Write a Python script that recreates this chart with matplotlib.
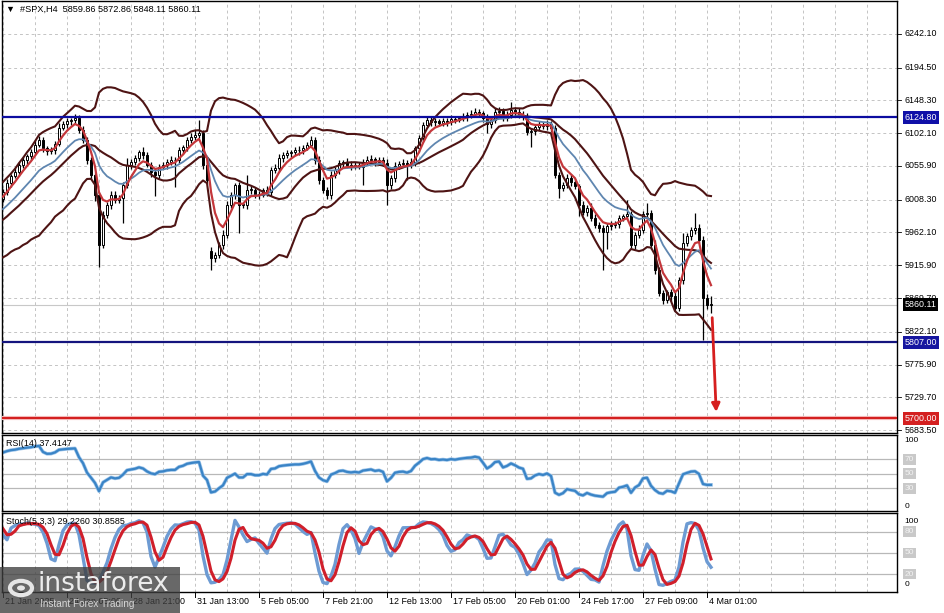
import numpy as np
import pandas as pd
import matplotlib
matplotlib.use('Agg')
import matplotlib.pyplot as plt
import matplotlib.transforms as mtrans
from matplotlib.patches import Rectangle, Circle

plt.rcParams['font.family'] = ['Liberation Sans', 'DejaVu Sans']

# H4 closes before the first visible bar, estimated, only so the indicators are warmed up
lead_close = [5930, 5941, 5936, 5948, 5955, 5950, 5962, 5958, 5970, 5978,
              5973, 5984, 5991, 5986, 5998, 6006, 6001, 6012, 6026, 6010]

# visible H4 bars, 21 Jan .. 4 Mar
close = [6019, 6032, 6042, 6047, 6057, 6064, 6070, 6076, 6086, 6093,
         6081, 6077, 6078, 6087, 6110, 6115, 6119, 6121, 6124, 6107,
         6093, 6064, 6043, 6015, 5945, 5987, 6001, 6015, 6008, 6011,
         6029, 6057, 6062, 6067, 6076, 6071, 6057, 6047, 6043, 6055,
         6057, 6062, 6064, 6064, 6078, 6083, 6093, 6097, 6100, 6102,
         6057, 6036, 5926, 5930, 5945, 5959, 6001, 6015, 6029, 6001,
         6001, 6022, 6022, 6015, 6015, 6022, 6019, 6050, 6053, 6067,
         6071, 6074, 6076, 6078, 6078, 6081, 6086, 6093, 6064, 6036,
         6022, 6015, 6043, 6050, 6060, 6062, 6057, 6055, 6057, 6055,
         6062, 6064, 6066, 6062, 6064, 6060, 6029, 6039, 6056, 6059,
         6060, 6057, 6062, 6081, 6095, 6114, 6121, 6118, 6119, 6117,
         6119, 6118, 6122, 6121, 6124, 6126, 6128, 6129, 6132, 6131,
         6124, 6115, 6121, 6132, 6134, 6124, 6128, 6135, 6132, 6128,
         6126, 6104, 6105, 6111, 6114, 6112, 6115, 6110, 6043, 6025,
         6029, 6039, 6033, 6028, 6001, 5991, 5997, 5983, 5973, 5968,
         5963, 5971, 5973, 5974, 5983, 5985, 5988, 5945, 5959, 5966,
         5988, 5990, 5945, 5909, 5877, 5867, 5878, 5873, 5856, 5895,
         5947, 5957, 5966, 5968, 5952, 5870, 5859.86, 5860.11]

wick_up = [4, 5, 3, 6, 4, 5, 3, 4, 6, 5,
           4, 3, 5, 4, 6, 5, 4, 3, 5, 4,
           6, 4, 5, 3, 4, 5, 4, 6, 5, 4,
           5, 10, 4, 5, 3, 6, 4, 5, 4, 3,
           5, 4, 6, 4, 5, 3, 4, 5, 6, 19,
           5, 4, 6, 5, 4, 6, 5, 4, 3, 5,
           4, 21, 5, 4, 6, 3, 5, 4, 5, 6,
           4, 5, 3, 4, 6, 5, 4, 5, 4, 6,
           5, 4, 6, 5, 4, 3, 5, 6, 4, 5,
           4, 6, 5, 3, 4, 5, 6, 4, 5, 4,
           6, 4, 5, 3, 5, 4, 6, 5, 4, 3,
           5, 4, 6, 4, 3, 5, 4, 6, 5, 4,
           3, 5, 4, 6, 5, 4, 5, 11, 4, 5,
           6, 4, 5, 3, 5, 4, 6, 5, 4, 5,
           4, 6, 5, 4, 3, 5, 4, 6, 5, 4,
           5, 4, 6, 5, 4, 3, 20, 5, 4, 6,
           5, 14, 4, 6, 5, 4, 3, 5, 6, 4,
           15, 5, 4, 22, 6, 5, 6, 12.75]

wick_dn = [5, 4, 6, 3, 5, 4, 6, 5, 3, 4,
           6, 5, 4, 5, 3, 4, 6, 5, 4, 5,
           4, 6, 5, 8, 32, 5, 4, 6, 5, 4,
           35, 4, 6, 5, 4, 5, 3, 6, 30, 5,
           4, 6, 5, 38, 4, 5, 6, 4, 5, 4,
           6, 5, 17, 5, 4, 6, 5, 4, 5, 39,
           4, 6, 5, 4, 5, 3, 6, 5, 4, 5,
           6, 4, 5, 4, 6, 5, 3, 4, 5, 6,
           4, 5, 6, 4, 5, 6, 4, 5, 3, 4,
           26, 5, 4, 6, 5, 4, 28, 5, 6, 4,
           5, 21, 4, 6, 5, 4, 3, 5, 6, 4,
           5, 6, 4, 5, 3, 4, 6, 5, 4, 5,
           6, 13, 5, 4, 6, 5, 4, 5, 6, 4,
           5, 4, 22, 6, 5, 4, 5, 6, 4, 14,
           5, 4, 6, 5, 15, 4, 6, 5, 4, 5,
           54, 24, 5, 4, 6, 5, 4, 5, 6, 4,
           5, 4, 6, 5, 4, 6, 5, 7, 4, 5,
           6, 4, 5, 6, 5, 60, 6, 11.75]

gap_open = {52: 5936}

price_ticks = [6242.10, 6194.50, 6148.30, 6102.10, 6055.90, 6008.30, 5962.10,
               5915.90, 5869.70, 5822.10, 5775.90, 5729.70, 5683.50]
resistance = 6124.80
support = 5807.00
target = 5700.00
last_price = 5860.11

date_labels = ['21 Jan 2025', '24 Jan 05:00', '28 Jan 21:00', '31 Jan 13:00',
               '5 Feb 05:00', '7 Feb 21:00', '12 Feb 13:00', '17 Feb 05:00',
               '20 Feb 01:00', '24 Feb 17:00', '27 Feb 09:00', '4 Mar 01:00']
label_step = 16
grid_step = 8

rsi_levels = [70, 50, 30]
stoch_levels = [80, 50, 20]

title = '\u25bc  #SPX,H4  5859.86 5872.86 5848.11 5860.11'
rsi_text = 'RSI(14) 37.4147'
stoch_text = 'Stoch(5,3,3) 29.2260 30.8585'

# ---- candles + indicators
n_lead = len(lead_close)
c_all = np.array(lead_close + close, dtype=float)
o_all = np.r_[c_all[0], c_all[:-1]]
for k, v in gap_open.items():
    o_all[n_lead + k] = v
up_all = np.r_[np.zeros(n_lead), wick_up]
dn_all = np.r_[np.zeros(n_lead), wick_dn]
h_all = np.maximum(o_all, c_all) + up_all
l_all = np.minimum(o_all, c_all) - dn_all

s = pd.Series(c_all)
bb_mid = s.rolling(20).mean()
bb_sd = s.rolling(20).std(ddof=0)
bb_up = bb_mid + 2 * bb_sd
bb_lo = bb_mid - 2 * bb_sd
ma_fast = s.ewm(span=5, adjust=False).mean()
ma_slow = s.ewm(span=14, adjust=False).mean()

delta = s.diff()
gain = delta.clip(lower=0).ewm(alpha=1 / 14, adjust=False).mean()
loss = (-delta.clip(upper=0)).ewm(alpha=1 / 14, adjust=False).mean()
rsi = 100 - 100 / (1 + gain / loss)

hh = pd.Series(h_all).rolling(5, min_periods=1).max()
ll = pd.Series(l_all).rolling(5, min_periods=1).min()
st_k = (s - ll).rolling(3, min_periods=1).sum() / (hh - ll).rolling(3, min_periods=1).sum() * 100
st_d = st_k.rolling(3, min_periods=1).mean()

vis = slice(n_lead, None)
idx = np.arange(len(close))
o, h, l, c = o_all[vis], h_all[vis], l_all[vis], c_all[vis]

W, H = 945, 613


def frac(left, top, right, bottom):
    return [left / W, 1 - bottom / H, (right - left) / W, (bottom - top) / H]


fig = plt.figure(figsize=(W / 100, H / 100), dpi=100)
fig.patch.set_facecolor('white')
ax = fig.add_axes(frac(2, 1, 897, 433))
ax_rsi = fig.add_axes(frac(2, 435, 897, 511))
ax_st = fig.add_axes(frac(2, 513, 897, 592))

xmin, xmax = -0.25, 223.5
grid_kw = dict(color='#c4c4c4', lw=0.7, ls=(0, (3, 3)), zorder=0)
for a in (ax, ax_rsi, ax_st):
    a.set_xlim(xmin, xmax)
    a.set_xticks([])
    a.set_yticks([])
    for sp in a.spines.values():
        sp.set_linewidth(1.0)
        sp.set_color('black')
    for g in range(0, 224, grid_step):
        a.axvline(g, **grid_kw)

# ---- main price panel
ax.set_ylim(5679.3, 6288.6)
for p in price_ticks:
    ax.axhline(p, **grid_kw)
ax.axhline(last_price, color='#c8c8c8', lw=0.8, zorder=0.5)

ax.vlines(idx, l, h, color='black', lw=0.9, zorder=2)
bull = c >= o
body = np.maximum(np.abs(c - o), 0.8)
ax.bar(idx[bull], body[bull], bottom=np.minimum(o, c)[bull], width=0.66,
       color='white', edgecolor='black', lw=0.7, zorder=2.2)
ax.bar(idx[~bull], body[~bull], bottom=np.minimum(o, c)[~bull], width=0.66,
       color='black', edgecolor='black', lw=0.7, zorder=2.2)

band_kw = dict(color='#4e1414', lw=1.5, zorder=3)
ax.plot(idx, bb_up[vis], **band_kw)
ax.plot(idx, bb_mid[vis], **band_kw)
ax.plot(idx, bb_lo[vis], **band_kw)
ax.plot(idx, ma_slow[vis], color='#5f86b0', lw=1.3, zorder=3.1)
ax.plot(idx, ma_fast[vis], color='#c4373b', lw=1.6, zorder=3.2)

ax.axhline(resistance, color='#0c0ca0', lw=1.6, zorder=4)
ax.axhline(support, color='#14147e', lw=1.6, zorder=4)
ax.axhline(target, color='#f4b8b8', lw=3.0, zorder=3.9)
ax.axhline(target, color='#d41c1c', lw=1.4, zorder=4)

ax.annotate('', xy=(178.3, 5709), xytext=(177.3, 5842),
            arrowprops=dict(arrowstyle='-|>', color='#d61f1f', lw=2.0,
                            mutation_scale=12, shrinkA=0, shrinkB=0), zorder=5)


def right_text(a, y, text, fc=None, tc='black', va='center', size=6.4):
    tr = mtrans.blended_transform_factory(a.transAxes, a.transData)
    kw = {}
    if fc is not None:
        kw['bbox'] = dict(boxstyle='square,pad=0.22', fc=fc, ec='none')
    a.text(1.0085, y, text, transform=tr, fontsize=size, color=tc, va=va,
           ha='left', clip_on=False, zorder=6, **kw)


def right_tick(a, y):
    tr = mtrans.blended_transform_factory(a.transAxes, a.transData)
    a.plot([1.0, 1.004], [y, y], transform=tr, color='black', lw=0.6, clip_on=False)


for p in price_ticks:
    right_tick(ax, p)
    right_text(ax, p, '%.2f' % p)
right_text(ax, resistance, '%.2f' % resistance, fc='#1010a8', tc='white')
right_text(ax, support, '%.2f' % support, fc='#1616a0', tc='white')
right_text(ax, target, '%.2f' % target, fc='#d42020', tc='white')
right_text(ax, last_price, '%.2f' % last_price, fc='black', tc='white')

# ---- RSI panel
ax_rsi.set_ylim(-1.4, 103.4)
for lv in rsi_levels:
    ax_rsi.axhline(lv, color='#b8b8b8', lw=0.9, zorder=0.5)
    right_text(ax_rsi, lv, str(lv), fc='#c9c9c9', tc='#f2f2f2', size=6.0)
right_text(ax_rsi, 100, '100', va='top', size=6.0)
right_text(ax_rsi, 0, '0', va='bottom', size=6.0)
ax_rsi.plot(idx, rsi[vis], color='#9cc4ea', lw=2.6, zorder=2)
ax_rsi.plot(idx, rsi[vis], color='#3a84c6', lw=1.6, zorder=2.1)

# ---- Stochastic panel
ax_st.set_ylim(-5.5, 106.5)
for lv in stoch_levels:
    ax_st.axhline(lv, color='#b8b8b8', lw=0.9, zorder=0.5)
    right_text(ax_st, lv, str(lv), fc='#c9c9c9', tc='#f2f2f2', size=6.0)
right_text(ax_st, 100, '100', va='top', size=6.0)
right_text(ax_st, 0, '0', va='bottom', size=6.0)
ax_st.plot(idx, st_k[vis], color='#6d9bd3', lw=2.4, zorder=2)
ax_st.plot(idx, st_d[vis], color='#d01f2b', lw=2.2, zorder=2.1)

# ---- texts
fig.text(6 / W, 1 - 9 / H, title, fontsize=6.6, va='center', ha='left')
fig.text(6 / W, 1 - 443 / H, rsi_text, fontsize=6.4, va='center', ha='left')
fig.text(6 / W, 1 - 522 / H, stoch_text, fontsize=6.4, va='center', ha='left')

# date axis
for k, lab in enumerate(date_labels):
    i = k * label_step
    px = 2 + (i - xmin) / (xmax - xmin) * 895
    fig.add_artist(plt.Line2D([px / W, px / W], [1 - 592 / H, 1 - 597 / H],
                              color='black', lw=0.7))
    fig.text((px + 2) / W, 1 - 601 / H, lab, fontsize=6.4, va='center', ha='left')

# watermark
fig.add_artist(Rectangle((0, 0), 180 / W, 46 / H, transform=fig.transFigure,
                         fc='#3e3e3e', ec='none', alpha=0.78, zorder=10))
fig.add_artist(Circle((21 / W, 1 - 588 / H), 11 / W, transform=fig.transFigure,
                      fill=False, ec='#e6e6e6', lw=3.0, zorder=11))
fig.add_artist(Circle((21 / W, 1 - 588 / H), 4 / W, transform=fig.transFigure,
                      fc='#e6e6e6', ec='none', zorder=11))
fig.text(38 / W, 1 - 584 / H, 'instaforex', fontsize=19, color='#ececec',
         va='center', ha='left', zorder=11, family=['DejaVu Sans'])
fig.text(40 / W, 1 - 604 / H, 'Instant Forex Trading', fontsize=7.2, color='#d6d6d6',
         va='center', ha='left', zorder=11)

fig.savefig('out.png', dpi=100, facecolor='white')
